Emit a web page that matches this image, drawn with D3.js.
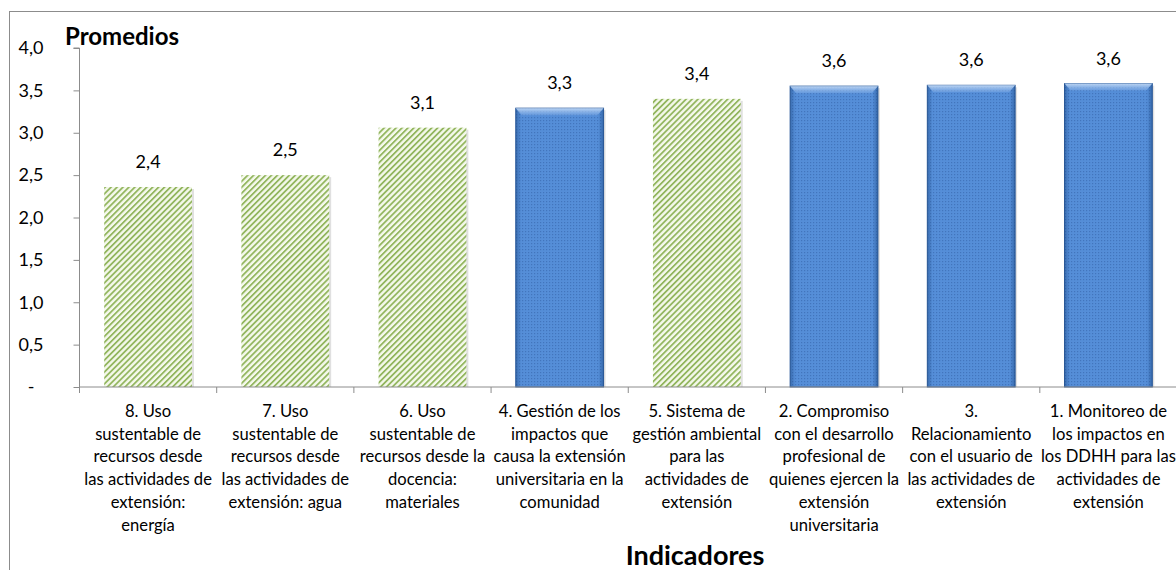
<!DOCTYPE html>
<html>
<head>
<meta charset="utf-8">
<script src="https://cdn.jsdelivr.net/npm/d3@7"></script>
<style>
  body { margin: 0; background: #fff; }
  svg { display: block; font-family: Lato, "Open Sans", sans-serif; }
</style>
</head>
<body>
<svg id="chart" width="1176" height="570"></svg>
<script>
// categories (line breaks as in the original chart)
const categories = [
    "8. Uso|sustentable de|recursos desde|las actividades de|extensión:|energía",
    "7. Uso|sustentable de|recursos desde|las actividades de|extensión: agua",
    "6. Uso|sustentable de|recursos desde la|docencia:|materiales",
    "4. Gestión de los|impactos que|causa la extensión|universitaria en la|comunidad",
    "5. Sistema de|gestión ambiental|para las|actividades de|extensión",
    "2. Compromiso|con el desarrollo|profesional de|quienes ejercen la|extensión|universitaria",
    "3.|Relacionamiento|con el usuario de|las actividades de|extensión",
    "1. Monitoreo de|los impactos en|los DDHH para las|actividades de|extensión"
];
const promedios = [2.36, 2.50, 3.06, 3.29, 3.40, 3.55, 3.56, 3.58];
const tipo = ["ambiental", "ambiental", "ambiental", "social", "ambiental", "social", "social", "social"];
const yTicks = [0, 0.5, 1, 1.5, 2, 2.5, 3, 3.5, 4];

const svg = d3.select("#chart");
const width = 1176, height = 570;
const margin = {left: 79.5, right: -1, top: 48, bottom: 183};

const x = d3.scaleBand()
    .domain(categories)
    .range([margin.left, width - margin.right])
    .paddingInner(0.36)
    .paddingOuter(0.18);

const y = d3.scaleLinear()
    .domain([0, 4])
    .range([height - margin.bottom, margin.top]);

const fmt = v => v === 0 ? "-" : d3.format(".1f")(v).replace(".", ",");

// patterns
const defs = svg.append("defs");

const hatch = defs.append("pattern")
    .attr("id", "hatch")
    .attr("patternUnits", "userSpaceOnUse")
    .attr("width", 4.2).attr("height", 4.2)
    .attr("patternTransform", "rotate(45)");
hatch.append("rect").attr("width", 4.2).attr("height", 4.2).attr("fill", "#f5f9ec");
hatch.append("rect").attr("width", 1.8).attr("height", 4.2).attr("fill", "#93b65f");

const dots = defs.append("pattern")
    .attr("id", "dots")
    .attr("patternUnits", "userSpaceOnUse")
    .attr("width", 3).attr("height", 3);
dots.append("rect").attr("width", 3).attr("height", 3).attr("fill", "#558ed8");
dots.append("rect").attr("width", 1.2).attr("height", 1.2).attr("fill", "#4275bd");

const shadeH = defs.append("linearGradient").attr("id", "shadeH");
shadeH.append("stop").attr("offset", "0%").attr("stop-color", "#1d4a86").attr("stop-opacity", 0.5);
shadeH.append("stop").attr("offset", "6%").attr("stop-color", "#1d4a86").attr("stop-opacity", 0);
shadeH.append("stop").attr("offset", "94%").attr("stop-color", "#1d4a86").attr("stop-opacity", 0);
shadeH.append("stop").attr("offset", "100%").attr("stop-color", "#1d4a86").attr("stop-opacity", 0.55);

const shadeV = defs.append("linearGradient").attr("id", "shadeV")
    .attr("x1", 0).attr("y1", 0).attr("x2", 0).attr("y2", 1);
shadeV.append("stop").attr("offset", "0%").attr("stop-color", "#c9def7").attr("stop-opacity", 0.9);
shadeV.append("stop").attr("offset", "100%").attr("stop-color", "#7aa8e4").attr("stop-opacity", 0.5);

// chart frame
svg.append("rect")
    .attr("x", 9.5).attr("y", 11.5)
    .attr("width", width).attr("height", height)
    .attr("fill", "none")
    .attr("stroke", "#8c8c8c");

// bars
const bars = svg.append("g").selectAll("g")
    .data(categories.map((c, i) => ({c, v: promedios[i], t: tipo[i]})))
    .join("g");

// light shadow
bars.append("rect")
    .attr("x", d => x(d.c) + 2)
    .attr("y", d => y(d.v) + 2)
    .attr("width", x.bandwidth())
    .attr("height", d => y(0) - y(d.v) - 2)
    .attr("fill", "#000")
    .attr("opacity", 0.12);

bars.append("rect")
    .attr("x", d => x(d.c))
    .attr("y", d => y(d.v))
    .attr("width", x.bandwidth())
    .attr("height", d => y(0) - y(d.v))
    .attr("fill", d => d.t === "social" ? "url(#dots)" : "url(#hatch)")
    .attr("stroke", d => d.t === "social" ? "#2e5d9c" : "none")
    .attr("stroke-width", 1);

// bevel for blue bars
const blue = bars.filter(d => d.t === "social");
blue.append("rect")
    .attr("x", d => x(d.c))
    .attr("y", d => y(d.v))
    .attr("width", x.bandwidth())
    .attr("height", d => y(0) - y(d.v))
    .attr("fill", "url(#shadeH)");
blue.append("path")
    .attr("d", d => {
        const x0 = x(d.c), x1 = x0 + x.bandwidth(), y0 = y(d.v);
        return `M${x0},${y0}L${x1},${y0}L${x1 - 6},${y0 + 7}L${x0 + 6},${y0 + 7}Z`;
    })
    .attr("fill", "url(#shadeV)");

// data labels
bars.append("text")
    .attr("x", d => x(d.c) + x.bandwidth() / 2)
    .attr("y", d => y(d.v) - 19)
    .attr("text-anchor", "middle")
    .attr("font-size", 18)
    .attr("fill", "#000")
    .text(d => fmt(Math.round(d.v * 10) / 10));

// y axis
const yAxis = svg.append("g")
    .attr("transform", `translate(${margin.left},0)`)
    .call(d3.axisLeft(y).tickValues(yTicks).tickSize(6).tickFormat(fmt));
yAxis.selectAll("line, path").attr("stroke", "#8c8c8c");
yAxis.select(".domain").attr("d", `M-6,${y(4)}H0V${y(0)}`);
yAxis.selectAll("text")
    .attr("x", 31 - margin.left)
    .attr("text-anchor", "middle")
    .attr("font-size", 18)
    .attr("font-family", "Lato, sans-serif")
    .attr("fill", "#000");

// x axis
const step = x.step();
const xAxis = svg.append("g");
xAxis.append("line")
    .attr("x1", margin.left).attr("x2", width)
    .attr("y1", y(0)).attr("y2", y(0))
    .attr("stroke", "#8c8c8c");
xAxis.selectAll(".tick")
    .data(categories)
    .join("line")
    .attr("x1", d => x(d) - step * 0.18).attr("x2", d => x(d) - step * 0.18)
    .attr("y1", y(0)).attr("y2", y(0) + 6)
    .attr("stroke", "#8c8c8c");

const labels = xAxis.selectAll("text")
    .data(categories)
    .join("text")
    .attr("text-anchor", "middle")
    .attr("font-size", 16.6)
    .attr("fill", "#000");
labels.selectAll("tspan")
    .data(d => d.split("|").map(line => ({line, c: d})))
    .join("tspan")
    .attr("x", d => x(d.c) + x.bandwidth() / 2)
    .attr("y", (d, i) => 417 + i * 22.7)
    .text(d => d.line);

// axis titles
svg.append("text")
    .attr("x", 65).attr("y", 45)
    .attr("font-size", 24)
    .attr("font-weight", "bold")
    .text("Promedios");

svg.append("text")
    .attr("x", 695).attr("y", 565)
    .attr("text-anchor", "middle")
    .attr("font-size", 27)
    .attr("font-weight", "bold")
    .text("Indicadores");
</script>
</body>
</html>
